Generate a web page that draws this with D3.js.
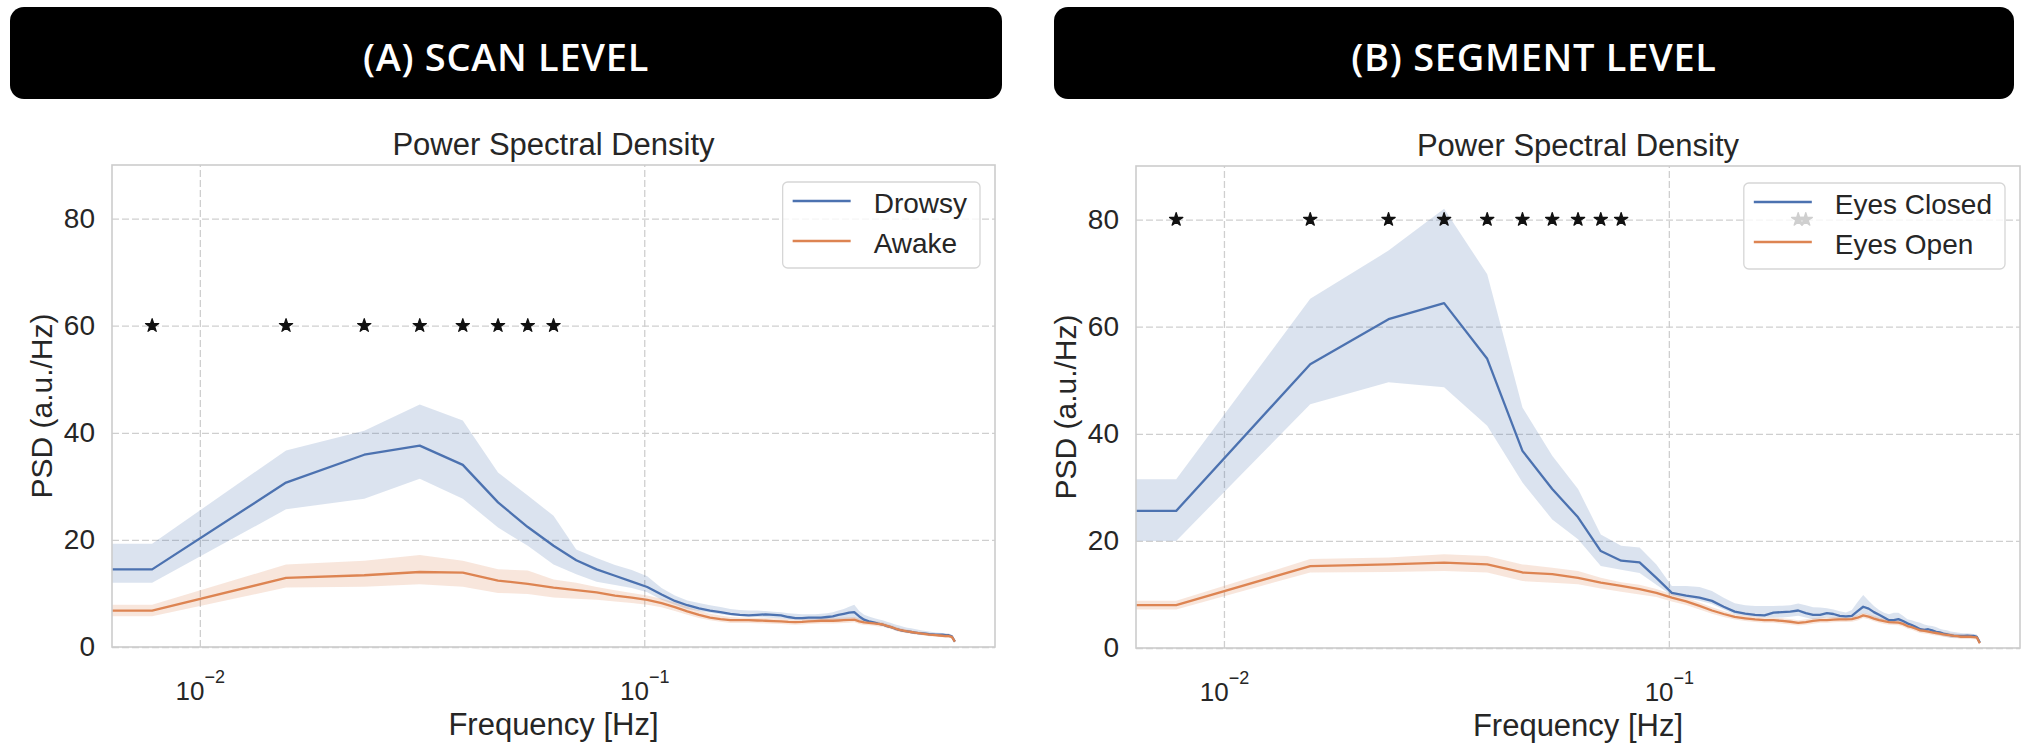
<!DOCTYPE html>
<html>
<head>
<meta charset="utf-8">
<script src="https://cdn.jsdelivr.net/npm/d3@7"></script>
<style>
  body { margin: 0; background: #fff; }
  svg { display: block; }
</style>
</head>
<body>
<svg id="chart" width="2040" height="751"></svg>
<script>

// Frequency bins (Hz)
var freqs = [
  0.00781, 0.01563, 0.02344, 0.03125, 0.03906, 0.04688, 0.05469, 0.0625,
  0.07031, 0.07813, 0.08594, 0.09375, 0.10156, 0.10938, 0.11719, 0.125,
  0.13281, 0.14063, 0.14844, 0.15625, 0.16406, 0.17188, 0.17969, 0.1875,
  0.19531, 0.20313, 0.21094, 0.21875, 0.22656, 0.23438, 0.24219, 0.25,
  0.25781, 0.26563, 0.27344, 0.28125, 0.28906, 0.29688, 0.30469, 0.3125,
  0.32031, 0.32813, 0.33594, 0.34375, 0.35156, 0.35938, 0.36719, 0.375,
  0.38281, 0.39063, 0.39844, 0.40625, 0.41406, 0.42188, 0.42969, 0.4375,
  0.44531, 0.45313, 0.46094, 0.46875, 0.47656, 0.48438, 0.49219, 0.5
];

// (A) scan level
var drowsyMean = [
  14.5, 30.7, 35.9, 37.6, 34.0, 27.0, 22.4, 18.9,
  16.2, 14.5, 13.3, 12.2, 11.2, 9.8, 8.6, 7.8,
  7.2, 6.8, 6.5, 6.2, 6.0, 5.9, 6.0, 6.1,
  6.0, 5.9, 5.6, 5.4, 5.4, 5.5, 5.5, 5.5,
  5.6, 5.7, 6.0, 6.2, 6.4, 6.5, 5.7, 5.1,
  4.8, 4.6, 4.35, 4.2, 3.9, 3.7, 3.4, 3.2,
  3.0, 2.9, 2.8, 2.7, 2.6, 2.55, 2.5, 2.4,
  2.35, 2.3, 2.3, 2.3, 2.2, 2.2, 2.0, 1.0
];
var drowsyHi = [
  19.3, 36.7, 40.4, 45.3, 42.3, 32.6, 28.3, 24.5,
  18.2, 16.6, 15.3, 14.4, 13.2, 11.0, 9.6, 8.7,
  8.2, 7.8, 7.45, 7.1, 6.9, 6.8, 6.8, 6.7,
  6.6, 6.5, 6.3, 6.2, 6.1, 6.1, 6.1, 6.2,
  6.3, 6.5, 6.8, 7.1, 7.5, 7.9, 6.7, 6.0,
  5.7, 5.4, 5.2, 5.0, 4.7, 4.5, 4.2, 4.0,
  3.8, 3.6, 3.5, 3.35, 3.2, 3.1, 3.0, 2.9,
  2.8, 2.7, 2.65, 2.6, 2.55, 2.5, 2.3, 1.4
];
var drowsyLo = [
  12.0, 25.7, 27.7, 31.4, 27.7, 22.3, 18.9, 15.4,
  13.6, 12.2, 11.6, 11.0, 10.2, 8.8, 7.9, 7.1,
  6.7, 6.4, 6.1, 5.9, 5.8, 5.7, 5.6, 5.5,
  5.4, 5.3, 5.2, 5.1, 5.0, 5.0, 5.0, 5.0,
  5.05, 5.1, 5.15, 5.2, 5.3, 5.4, 4.9, 4.6,
  4.45, 4.3, 4.15, 4.0, 3.7, 3.5, 3.2, 3.0,
  2.8, 2.65, 2.5, 2.4, 2.3, 2.25, 2.2, 2.1,
  2.05, 2.0, 1.95, 1.9, 1.85, 1.85, 1.7, 0.75
];
var awakeMean = [
  6.8, 12.9, 13.4, 14.0, 13.9, 12.4, 11.8, 11.1,
  10.6, 10.2, 9.6, 9.2, 8.8, 8.2, 7.45, 6.65,
  6.0, 5.5, 5.2, 5.0, 5.0, 5.0, 4.95, 4.9,
  4.85, 4.8, 4.7, 4.65, 4.7, 4.8, 4.85, 4.9,
  4.9, 4.9, 4.95, 5.0, 5.05, 5.1, 4.8, 4.6,
  4.5, 4.4, 4.3, 4.2, 3.95, 3.7, 3.45, 3.2,
  3.05, 2.9, 2.8, 2.7, 2.6, 2.5, 2.4, 2.3,
  2.25, 2.2, 2.15, 2.1, 2.05, 2.05, 1.9, 1.0
];
var awakeHi = [
  7.9, 15.4, 16.1, 17.2, 16.1, 14.5, 14.3, 12.6,
  12.0, 11.2, 10.6, 10.1, 9.6, 9.0, 8.3, 7.5,
  6.8, 6.2, 5.9, 5.6, 5.5, 5.5, 5.45, 5.4,
  5.35, 5.3, 5.2, 5.15, 5.2, 5.3, 5.35, 5.4,
  5.4, 5.4, 5.45, 5.5, 5.55, 5.6, 5.3, 5.1,
  4.95, 4.85, 4.75, 4.6, 4.35, 4.1, 3.85, 3.6,
  3.4, 3.25, 3.1, 3.0, 2.9, 2.8, 2.7, 2.6,
  2.55, 2.5, 2.45, 2.4, 2.35, 2.35, 2.2, 1.3
];
var awakeLo = [
  5.75, 11.1, 11.25, 11.7, 11.25, 10.1, 9.9, 9.25,
  9.0, 8.8, 8.5, 8.2, 7.9, 7.4, 6.7, 6.0,
  5.4, 5.0, 4.7, 4.5, 4.5, 4.5, 4.45, 4.4,
  4.35, 4.3, 4.2, 4.15, 4.2, 4.3, 4.35, 4.4,
  4.4, 4.4, 4.45, 4.5, 4.55, 4.6, 4.3, 4.1,
  4.05, 3.95, 3.85, 3.8, 3.55, 3.3, 3.05, 2.8,
  2.7, 2.55, 2.5, 2.4, 2.3, 2.2, 2.1, 2.0,
  1.95, 1.9, 1.85, 1.8, 1.75, 1.75, 1.6, 0.7
];

// (B) segment level
var closedMean = [
  25.6, 53.0, 61.4, 64.4, 54.0, 36.8, 29.7, 24.4,
  18.1, 16.3, 16.0, 13.1, 10.3, 9.8, 9.4, 8.8,
  7.7, 6.8, 6.4, 6.2, 6.1, 6.6, 6.7, 6.8,
  7.0, 6.5, 6.2, 6.2, 6.5, 6.35, 6.0, 5.9,
  6.0, 6.9, 7.7, 7.35, 6.7, 6.2, 5.7, 5.2,
  5.2, 5.4, 5.05, 4.6, 4.3, 3.9, 3.5, 3.4,
  3.5, 3.3, 3.0, 2.9, 2.7, 2.55, 2.4, 2.25,
  2.25, 2.25, 2.25, 2.3, 2.25, 2.25, 2.1, 1.0
];
var closedHi = [
  31.5, 65.2, 74.2, 82.0, 69.8, 44.9, 35.9, 29.7,
  21.2, 19.1, 18.75, 15.6, 11.6, 11.6, 11.4, 10.65,
  9.4, 8.35, 8.0, 7.85, 7.85, 7.85, 7.9, 8.0,
  8.3, 8.0, 7.6, 7.55, 7.4, 7.2, 6.85, 6.65,
  7.1, 8.6, 9.9, 8.8, 7.85, 7.1, 6.6, 6.3,
  6.6, 6.6, 6.0, 5.35, 5.2, 4.9, 4.7, 4.4,
  4.2, 4.1, 3.9, 3.6, 3.4, 3.3, 3.1, 3.0,
  2.9, 2.8, 2.75, 2.75, 2.7, 2.6, 2.5, 1.5
];
var closedLo = [
  20.0, 45.5, 49.6, 48.7, 41.5, 30.9, 24.0, 20.3,
  15.3, 14.6, 14.0, 11.8, 9.8, 9.3, 8.8, 8.2,
  7.2, 6.3, 6.0, 5.8, 5.7, 5.7, 5.7, 5.85,
  6.0, 5.7, 5.35, 5.5, 5.7, 5.6, 5.35, 5.2,
  5.35, 6.0, 6.5, 6.2, 5.7, 5.2, 4.85, 4.6,
  4.6, 4.7, 4.3, 3.9, 3.7, 3.4, 3.1, 3.0,
  3.0, 2.75, 2.55, 2.4, 2.2, 2.05, 1.9, 1.85,
  1.85, 1.85, 1.85, 1.9, 1.85, 1.85, 1.75, 0.7
];
var openMean = [
  8.0, 15.3, 15.6, 15.95, 15.6, 14.1, 13.8, 13.1,
  12.2, 11.6, 11.0, 10.3, 9.4, 8.7, 7.85, 7.0,
  6.35, 5.8, 5.55, 5.35, 5.2, 5.2, 5.05, 4.9,
  4.7, 4.85, 5.05, 5.2, 5.2, 5.3, 5.35, 5.35,
  5.4, 5.65, 6.1, 5.85, 5.5, 5.2, 5.0, 4.85,
  4.8, 4.75, 4.5, 4.1, 3.9, 3.6, 3.3, 3.2,
  3.05, 2.9, 2.8, 2.7, 2.55, 2.45, 2.35, 2.25,
  2.2, 2.1, 2.1, 2.1, 2.1, 2.05, 2.0, 0.9
];
var openHi = [
  8.8, 16.6, 16.9, 17.5, 17.2, 15.6, 15.0, 14.4,
  13.1, 12.3, 11.8, 11.0, 10.1, 9.35, 8.5, 7.6,
  6.9, 6.3, 6.05, 5.85, 5.7, 5.7, 5.55, 5.4,
  5.2, 5.35, 5.55, 5.7, 5.7, 5.8, 5.85, 5.85,
  5.9, 6.15, 6.6, 6.35, 6.0, 5.7, 5.5, 5.35,
  5.3, 5.25, 5.0, 4.6, 4.4, 4.1, 3.8, 3.7,
  3.5, 3.35, 3.25, 3.15, 3.0, 2.9, 2.8, 2.7,
  2.6, 2.5, 2.5, 2.5, 2.5, 2.45, 2.4, 1.2
];
var openLo = [
  7.2, 14.1, 14.2, 14.4, 14.1, 12.5, 12.2, 11.9,
  11.1, 10.5, 10.0, 9.5, 8.7, 8.05, 7.2, 6.4,
  5.8, 5.3, 5.05, 4.85, 4.7, 4.7, 4.55, 4.4,
  4.2, 4.35, 4.55, 4.7, 4.7, 4.8, 4.85, 4.85,
  4.9, 5.15, 5.6, 5.35, 5.0, 4.7, 4.5, 4.35,
  4.3, 4.25, 4.0, 3.6, 3.4, 3.1, 2.8, 2.7,
  2.6, 2.45, 2.35, 2.25, 2.1, 2.0, 1.9, 1.8,
  1.8, 1.7, 1.7, 1.7, 1.7, 1.65, 1.6, 0.6
];

// significance stars (frequency, level)
var scanStarFreqs = [0.00781, 0.01563, 0.02344, 0.03125, 0.03906, 0.04688, 0.05469, 0.0625];
var scanStarLevel = 60;
var segStarFreqs = [0.00781, 0.01563, 0.02344, 0.03125, 0.03906, 0.04688, 0.05469, 0.0625, 0.07031, 0.07813, 0.19531, 0.20313];
var segStarLevel = 80;

var yTicks = [0, 20, 40, 60, 80];
var xTicks = [0.01, 0.1];
var xTickExp = ['\u22122', '\u22121'];

var blue = '#4c72b0', orange = '#dd8452';
var textColor = '#262626';
var plotFont = '"Liberation Sans", Arial, sans-serif';

(function() {

var svg = d3.select('#chart');

function makeSeries(mean, lo, hi) {
  return freqs.map(function(f, i) { return {f: f, v: mean[i], lo: lo[i], hi: hi[i]}; });
}

var panels = [
  { header: '(A) SCAN LEVEL', box: [10, 7, 992, 92],
    frame: {left: 112, top: 165, right: 995, bottom: 647},
    series: [
      {name: 'Drowsy', color: blue, data: makeSeries(drowsyMean, drowsyLo, drowsyHi)},
      {name: 'Awake', color: orange, data: makeSeries(awakeMean, awakeLo, awakeHi)}
    ],
    stars: scanStarFreqs, starLevel: scanStarLevel },
  { header: '(B) SEGMENT LEVEL', box: [1054, 7, 960, 92],
    frame: {left: 1136, top: 166, right: 2020, bottom: 648},
    series: [
      {name: 'Eyes Closed', color: blue, data: makeSeries(closedMean, closedLo, closedHi)},
      {name: 'Eyes Open', color: orange, data: makeSeries(openMean, openLo, openHi)}
    ],
    stars: segStarFreqs, starLevel: segStarLevel }
];

panels.forEach(drawPanel);

function drawPanel(p) {
  // black header banner
  svg.append('rect')
     .attr('x', p.box[0]).attr('y', p.box[1])
     .attr('width', p.box[2]).attr('height', p.box[3])
     .attr('rx', 14).attr('ry', 14)
     .attr('fill', '#000');
  svg.append('text')
     .attr('x', p.box[0] + p.box[2] / 2)
     .attr('y', p.box[1] + p.box[3] / 2 + 18)
     .attr('text-anchor', 'middle')
     .attr('fill', '#fff')
     .style('font-family', '"Open Sans", sans-serif')
     .style('font-weight', 600)
     .style('font-size', '38px')
     .style('letter-spacing', '0.7px')
     .text(p.header);

  var width = p.frame.right - p.frame.left,
      height = p.frame.bottom - p.frame.top;

  // log x with matplotlib-like 5% margins
  var lx = d3.extent(freqs).map(Math.log10),
      pad = (lx[1] - lx[0]) * 0.05;
  var x = d3.scaleLog()
            .domain([Math.pow(10, lx[0] - pad), Math.pow(10, lx[1] + pad)])
            .range([0, width]);
  var y = d3.scaleLinear().domain([0, 90]).range([height, 0]);

  var g = svg.append('g')
             .attr('transform', 'translate(' + p.frame.left + ',' + p.frame.top + ')');

  // grid
  g.append('g')
   .attr('class', 'grid')
   .call(d3.axisLeft(y).tickValues(yTicks).tickSize(-width).tickFormat(''));
  g.append('g')
   .attr('class', 'grid')
   .attr('transform', 'translate(0,' + height + ')')
   .call(d3.axisBottom(x).tickValues(xTicks).tickSize(-height).tickFormat(''));
  g.selectAll('.grid .domain').remove();
  g.selectAll('.grid line')
   .attr('stroke', '#cfcfcf')
   .attr('stroke-width', 1.3)
   .attr('stroke-dasharray', '7,3');

  // first bin is extended to the left edge (zero-frequency bin clipped on log axis)
  function withEdge(data) {
    var d0 = data[0];
    return [{f: x.domain()[0], v: d0.v, lo: d0.lo, hi: d0.hi}].concat(data);
  }

  var area = d3.area()
               .x(function(d) { return x(d.f); })
               .y0(function(d) { return y(d.lo); })
               .y1(function(d) { return y(d.hi); });
  var line = d3.line()
               .x(function(d) { return x(d.f); })
               .y(function(d) { return y(d.v); });

  p.series.forEach(function(s) {
    g.append('path')
     .datum(withEdge(s.data))
     .attr('d', area)
     .attr('fill', s.color)
     .attr('fill-opacity', 0.2)
     .attr('stroke', 'none');
  });
  p.series.forEach(function(s) {
    g.append('path')
     .datum(withEdge(s.data))
     .attr('d', line)
     .attr('fill', 'none')
     .attr('stroke', s.color)
     .attr('stroke-width', 2.3)
     .attr('stroke-linejoin', 'round');
  });

  // stars
  g.selectAll('.star')
   .data(p.stars)
   .enter().append('path')
   .attr('class', 'star')
   .attr('transform', function(d) { return 'translate(' + x(d) + ',' + y(p.starLevel) + ')'; })
   .attr('d', d3.symbol().type(d3.symbolStar).size(55))
   .attr('fill', '#111')
   .attr('stroke', '#111')
   .attr('stroke-width', 1.2)
   .attr('stroke-linejoin', 'round');

  // frame
  g.append('rect')
   .attr('width', width).attr('height', height)
   .attr('fill', 'none')
   .attr('stroke', '#cccccc')
   .attr('stroke-width', 1.6);

  // y axis
  var yAxis = g.append('g')
               .call(d3.axisLeft(y).tickValues(yTicks).tickSize(0).tickPadding(17));
  yAxis.select('.domain').remove();
  yAxis.selectAll('text')
       .attr('fill', textColor)
       .style('font-family', plotFont)
       .style('font-size', '28px');

  // x axis with 10^n labels
  var xAxis = g.append('g')
               .attr('transform', 'translate(0,' + height + ')')
               .call(d3.axisBottom(x).tickValues(xTicks).tickSize(0).tickFormat(''));
  xAxis.select('.domain').remove();
  xAxis.selectAll('text')
       .attr('y', 53).attr('dy', null)
       .attr('fill', textColor)
       .style('font-family', plotFont)
       .each(function(d, i) {
         var t = d3.select(this);
         t.append('tspan').style('font-size', '26px').text('10');
         t.append('tspan').attr('dy', -17).style('font-size', '18px').text(xTickExp[i]);
       });

  // axis labels and title
  g.append('text')
   .attr('x', width / 2).attr('y', height + 88)
   .attr('text-anchor', 'middle')
   .attr('fill', textColor)
   .style('font-family', plotFont).style('font-size', '31px')
   .text('Frequency [Hz]');
  g.append('text')
   .attr('transform', 'rotate(-90)')
   .attr('x', -height / 2).attr('y', -60)
   .attr('text-anchor', 'middle')
   .attr('fill', textColor)
   .style('font-family', plotFont).style('font-size', '30px')
   .text('PSD (a.u./Hz)');
  g.append('text')
   .attr('x', width / 2).attr('y', -10)
   .attr('text-anchor', 'middle')
   .attr('fill', textColor)
   .style('font-family', plotFont).style('font-size', '31px')
   .text('Power Spectral Density');

  // legend (semi-transparent, stars show through faintly)
  var leg = g.append('g');
  var legBox = leg.append('rect')
                  .attr('rx', 5).attr('ry', 5)
                  .attr('fill', '#fff').attr('fill-opacity', 0.8)
                  .attr('stroke', '#d6d6d6').attr('stroke-width', 1.3);
  var maxW = 0;
  p.series.forEach(function(s, i) {
    leg.append('line')
       .attr('x1', 10).attr('x2', 68)
       .attr('y1', 19 + i * 40).attr('y2', 19 + i * 40)
       .attr('stroke', s.color).attr('stroke-width', 2.5);
    var t = leg.append('text')
               .attr('x', 91).attr('y', 31 + i * 40)
               .attr('fill', textColor)
               .style('font-family', plotFont).style('font-size', '28px')
               .text(s.name);
    maxW = Math.max(maxW, t.node().getComputedTextLength());
  });
  var legW = 91 + maxW + 13;
  legBox.attr('width', legW).attr('height', 86);
  leg.attr('transform', 'translate(' + (width - 15 - legW) + ',17)');
}

})();
</script>
</body>
</html>
